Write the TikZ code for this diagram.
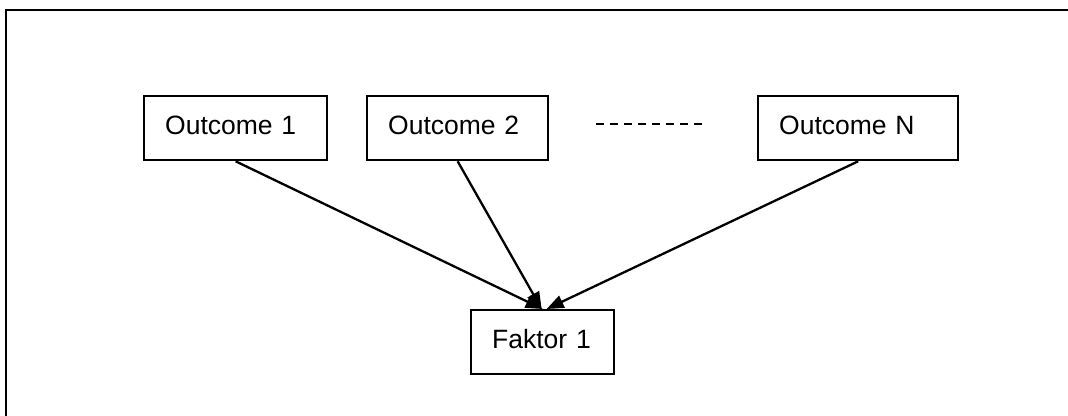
\documentclass[tikz,border=0pt]{standalone}
\usepackage{fontspec}
\setmainfont{Liberation Sans}
\usetikzlibrary{arrows.meta,calc}
\begin{document}
\begin{tikzpicture}[x=1pt,y=-1pt,
  box/.style={draw,line width=2.3pt,anchor=north west,inner xsep=21pt,inner ysep=0pt,
    align=left,minimum height=64pt,text height=19pt,text depth=7pt,
    font=\fontsize{26.5}{30}\selectfont},
  arr/.style={line width=2.3pt,-{Triangle[length=17pt,width=13pt]}},
  frame/.style={line width=2.5pt}]
\useasboundingbox (0,0) rectangle (1068,415);
\coordinate (fbl) at (6,420);
\coordinate (ftl) at (6,10);
\coordinate (ftr) at (1075,10);
\draw[frame] (fbl) -- (ftl) -- (ftr);
\node[box,minimum width=183pt,text width=141pt] (o1) at (143,95) {Outcome 1};
\node[box,minimum width=181pt,text width=139pt] (o2) at (366,95) {Outcome 2};
\node[box,minimum width=200pt,text width=158pt] (oN) at (757,95) {Outcome N};
\node[box,minimum width=143pt,text width=101pt] (f) at (470,309) {Faktor 1};
\coordinate (d1) at (596,124);
\coordinate (d2) at (702,124);
\draw[line width=2.3pt,dash pattern=on 8pt off 6pt] (d1) -- (d2);
\draw[arr] (o1.south) -- ([xshift=0pt]f.north);
\draw[arr] (o2.south) -- ([xshift=-1pt]f.north);
\draw[arr] (oN.south) -- ([xshift=4pt]f.north);
\end{tikzpicture}
\end{document}
